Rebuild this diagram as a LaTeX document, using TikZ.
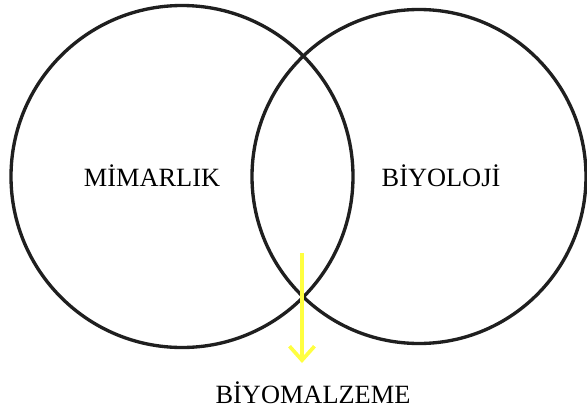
\documentclass[tikz,border=0pt]{standalone}
\usepackage{fontspec}
\setmainfont{Liberation Serif}
\usepackage{xcolor}
\usetikzlibrary{arrows.meta,positioning}
\definecolor{amarillo}{HTML}{FFFF40}
\tikzset{
  circulo/.style={draw=black!88,line width=1.9pt},
  etiqueta/.style={anchor=base,inner sep=0pt,font=\fontsize{15}{18}\selectfont},
  flecha/.style={amarillo,line width=2.1pt,-{Straight Barb[length=2.8mm,width=5mm,line width=2.1pt]}}
}
\begin{document}
\begin{tikzpicture}[scale=1.0]
\useasboundingbox[fill=white] (0,0) rectangle (11.74,-8.22);
\draw[circulo] (3.64,-3.53) circle (3.42);
\draw[circulo] (8.38,-3.53) circle (3.34);
\node[etiqueta] (mim) at (3.04,-3.72) {MİMARLIK};
\node[etiqueta] (bio) at (8.82,-3.72) {BİYOLOJİ};
\node[etiqueta] (bm) at (6.26,-8.06) {BİYOMALZEME};
\coordinate (ust) at (6.04,-5.06);
\coordinate (alt) at (6.04,-7.26);
\draw[flecha] (ust) -- (alt);
\end{tikzpicture}
\end{document}
